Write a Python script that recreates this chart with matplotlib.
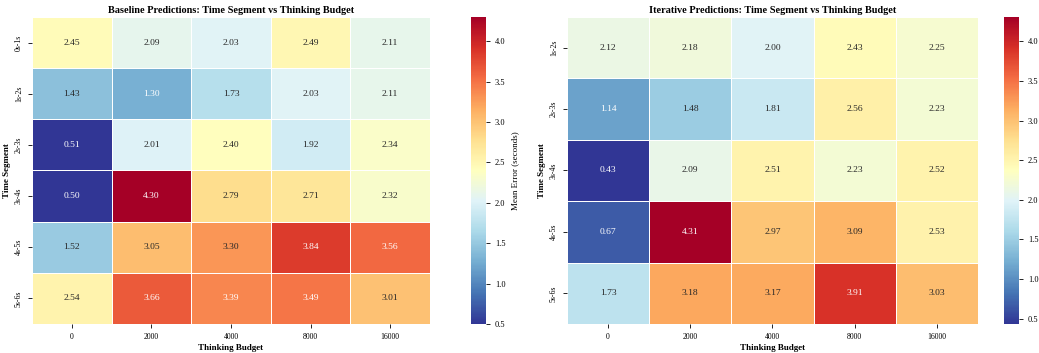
import matplotlib
matplotlib.use('Agg')
import matplotlib.pyplot as plt
import seaborn as sns
import numpy as np

plt.rcParams['font.family'] = ['Liberation Serif', 'DejaVu Serif']

budgets = ['0', '2000', '4000', '8000', '16000']

base_segments = ['0s-1s', '1s-2s', '2s-3s', '3s-4s', '4s-5s', '5s-6s']
base_values = np.array([
    [2.45, 2.09, 2.03, 2.49, 2.11],
    [1.43, 1.30, 1.73, 2.03, 2.11],
    [0.51, 2.01, 2.40, 1.92, 2.34],
    [0.50, 4.30, 2.79, 2.71, 2.32],
    [1.52, 3.05, 3.30, 3.84, 3.56],
    [2.54, 3.66, 3.39, 3.49, 3.01],
])

iter_segments = ['1s-2s', '2s-3s', '3s-4s', '4s-5s', '5s-6s']
iter_values = np.array([
    [2.12, 2.18, 2.00, 2.43, 2.25],
    [1.14, 1.48, 1.81, 2.56, 2.23],
    [0.43, 2.09, 2.51, 2.23, 2.52],
    [0.67, 4.31, 2.97, 3.09, 2.53],
    [1.73, 3.18, 3.17, 3.91, 3.03],
])

fig = plt.figure(figsize=(10.39, 3.53), dpi=100)
ax1 = fig.add_axes([0.0308, 0.082, 0.383, 0.870])
cax1 = fig.add_axes([0.4533, 0.082, 0.0144, 0.870])
ax2 = fig.add_axes([0.5457, 0.082, 0.3956, 0.870])
cax2 = fig.add_axes([0.9663, 0.082, 0.0144, 0.870])

panels = [
    (ax1, cax1, base_values, base_segments, 'Baseline Predictions: Time Segment vs Thinking Budget'),
    (ax2, cax2, iter_values, iter_segments, 'Iterative Predictions: Time Segment vs Thinking Budget'),
]

for ax, cax, vals, segs, title in panels:
    sns.heatmap(vals, ax=ax, cbar_ax=cax, cmap='RdYlBu_r', annot=True, fmt='.2f',
                annot_kws={'size': 6.8}, linewidths=0.5, linecolor='white',
                xticklabels=budgets, yticklabels=segs,
                cbar_kws={'label': 'Mean Error (seconds)'})
    ax.set_title(title, fontsize=7.4, fontweight='bold', pad=3)
    ax.set_xlabel('Thinking Budget', fontsize=6.5, fontweight='bold', labelpad=2)
    ax.set_ylabel('Time Segment', fontsize=6.5, fontweight='bold', labelpad=3)
    ax.tick_params(axis='both', labelsize=5.6, length=3, width=0.6)
    ax.set_yticklabels(segs, rotation=90, va='center')
    cax.tick_params(labelsize=6, length=3, width=0.6)
    cax.yaxis.label.set_size(6.5)

fig.savefig('out.png', dpi=100)
